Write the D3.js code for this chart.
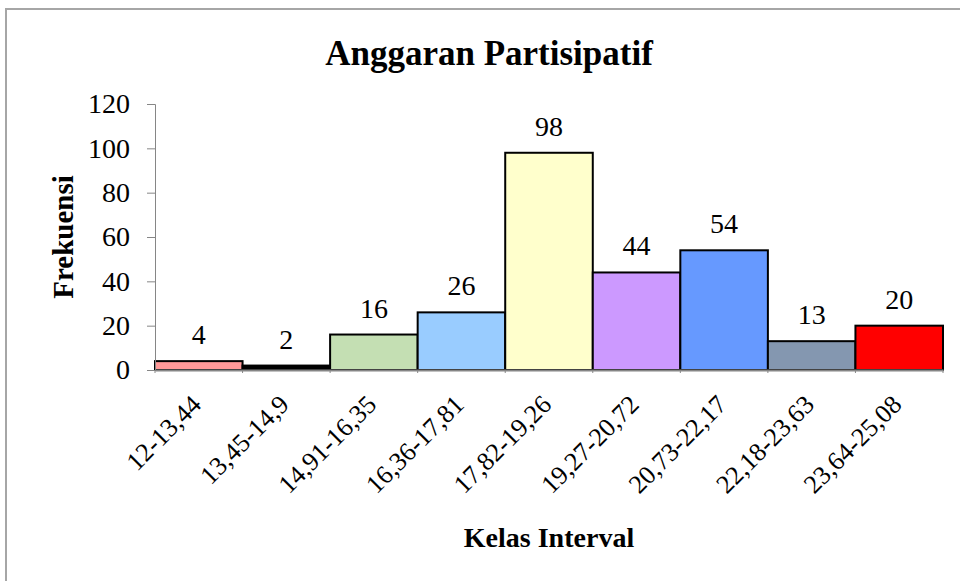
<!DOCTYPE html>
<html>
<head>
<meta charset="utf-8">
<script src="https://cdn.jsdelivr.net/npm/d3@7"></script>
<style>
  body { margin: 0; background: #fff; }
</style>
</head>
<body>
<div id="viz-container"></div>
<script>
// data
let kelas = ["12-13,44", "13,45-14,9", "14,91-16,35", "16,36-17,81", "17,82-19,26",
             "19,27-20,72", "20,73-22,17", "22,18-23,63", "23,64-25,08"];
let frekuensi = [4, 2, 16, 26, 98, 44, 54, 13, 20];
let warna = ["#ff9999", "#000000", "#c4dfb3", "#99ccff", "#ffffcc",
             "#cc99ff", "#6699ff", "#8497b0", "#ff0000"];
let yTicks = [0, 20, 40, 60, 80, 100, 120];

let width = 960, height = 581;
let plotLeft = 155, plotRight = 943, plotTop = 104, plotBottom = 370;
let serif = "'Liberation Serif', 'Times New Roman', serif";

let viz = d3.select("#viz-container")
  .append("svg")
    .attr("width", width)
    .attr("height", height);

// frame (only top and left edges show in the picture)
viz.append("path")
  .attr("d", "M6,581 L6,9 L960,9")
  .attr("fill", "none")
  .attr("stroke", "#a6a6a6")
  .attr("stroke-width", 2);

let x = d3.scaleBand().domain(kelas).range([plotLeft, plotRight]).padding(0);
let y = d3.scaleLinear().domain([0, 120]).range([plotBottom, plotTop]);

// title
viz.append("text")
  .attr("x", 489).attr("y", 65)
  .attr("text-anchor", "middle")
  .attr("font-size", 35).attr("font-weight", "bold")
  .text("Anggaran Partisipatif");

// bars
viz.selectAll(".bar").data(frekuensi).enter().append("rect")
  .attr("class", "bar")
  .attr("x", (d, i) => x(kelas[i]))
  .attr("y", d => y(d))
  .attr("width", x.bandwidth())
  .attr("height", d => y(0) - y(d))
  .attr("fill", (d, i) => warna[i])
  .attr("stroke", "#000")
  .attr("stroke-width", 2);

// y axis
let yAxis = viz.append("g")
  .attr("transform", "translate(" + plotLeft + ",0)")
  .call(d3.axisLeft(y).tickValues(yTicks).tickSize(8).tickPadding(17));
yAxis.selectAll("path, line").attr("stroke", "#868686");
yAxis.selectAll("text")
  .attr("font-size", 28)
  .attr("fill", "#000");

// x axis
let xAxis = viz.append("g")
  .attr("transform", "translate(0," + plotBottom + ")")
  .call(d3.axisBottom(x).tickSize(0).tickPadding(0));
xAxis.select("path").attr("stroke", "#868686").attr("stroke-width", 2);
xAxis.selectAll("text").remove();

// small boundary ticks
let batas = kelas.map(d => x(d)).concat([plotRight]);
viz.selectAll(".xtick").data(batas).enter().append("line")
  .attr("class", "xtick")
  .attr("x1", d => d).attr("x2", d => d)
  .attr("y1", plotBottom).attr("y2", plotBottom + 3)
  .attr("stroke", "#868686");

// rotated category labels
viz.selectAll(".xlab").data(kelas).enter().append("text")
  .attr("class", "xlab")
  .attr("transform", d => "translate(" + (x(d) + x.bandwidth() / 2 + 4) + "," + (plotBottom + 36) + ") rotate(-45)")
  .attr("text-anchor", "end")
  .attr("font-size", 26)
  .text(d => d);

// value labels
viz.selectAll(".vlab").data(frekuensi).enter().append("text")
  .attr("class", "vlab")
  .attr("x", (d, i) => x(kelas[i]) + x.bandwidth() / 2)
  .attr("y", d => y(d) - 17)
  .attr("text-anchor", "middle")
  .attr("font-size", 28)
  .text(d => d);

// axis titles
viz.append("text")
  .attr("transform", "translate(73," + ((plotTop + plotBottom) / 2) + ") rotate(-90)")
  .attr("text-anchor", "middle")
  .attr("font-size", 29).attr("font-weight", "bold")
  .text("Frekuensi");

viz.append("text")
  .attr("x", (plotLeft + plotRight) / 2).attr("y", 547)
  .attr("text-anchor", "middle")
  .attr("font-size", 28).attr("font-weight", "bold")
  .text("Kelas Interval");

viz.selectAll("text").style("font-family", serif).attr("fill", "#000");
</script>
</body>
</html>
